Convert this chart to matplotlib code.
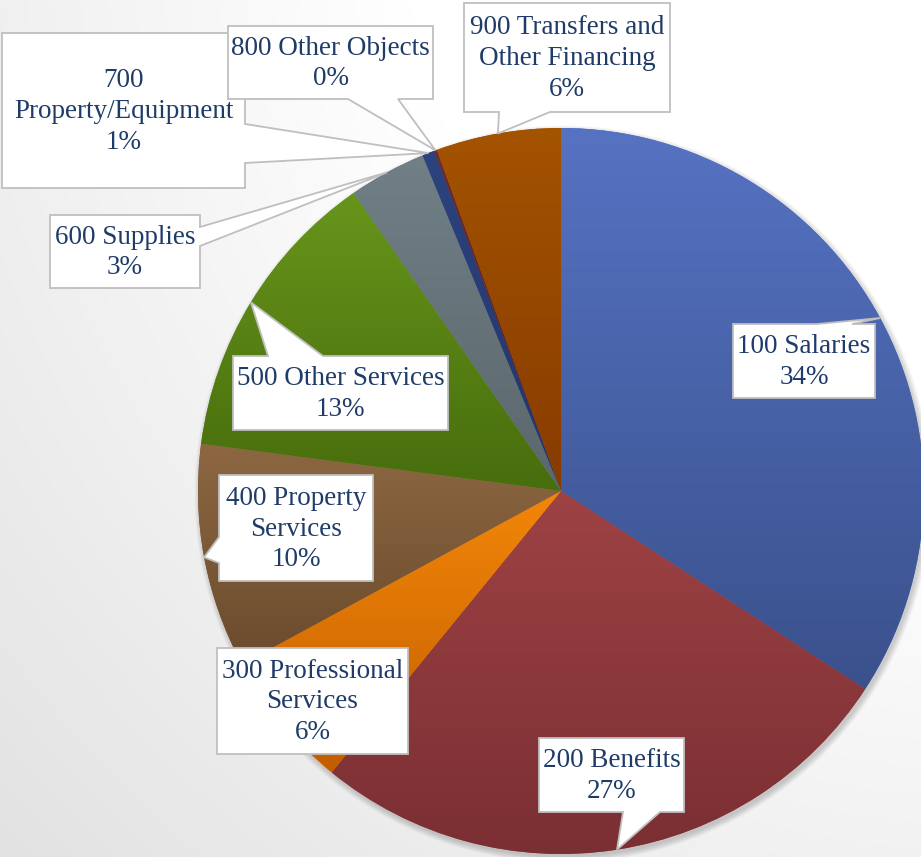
import matplotlib.pyplot as plt
import numpy as np
from matplotlib.patches import Polygon, Circle
from matplotlib.colors import to_rgb

# slice data (clockwise from 12 o'clock)
labels = ["100 Salaries", "200 Benefits", "300 Professional\nServices",
          "400 Property\nServices", "500 Other Services", "600 Supplies",
          "700\nProperty/Equipment", "800 Other Objects",
          "900 Transfers and\nOther Financing"]
shares = [34.2, 26.7, 6.2, 10.0, 13.25, 3.45, 0.55, 0.12, 5.56]
top_colors = ["#5672c2", "#9e4244", "#f38709", "#8d6742", "#67951b",
              "#717f86", "#2d437e", "#6e2c2c", "#a45300"]
bot_colors = ["#3a518c", "#7a2f33", "#c25e00", "#6a4b2d", "#476d0d",
              "#5a676d", "#22356a", "#592020", "#873b00"]

# callout boxes in pixels: (x0, y0, x1, y1), pointer side, pointer base
boxes = [
    ((733, 324, 875, 398), "top", (817, 852)),
    ((539, 738, 684, 812), "bottom", (623, 660)),
    ((217, 648, 408, 754), None, None),
    ((219, 475, 373, 581), "left", (537, 563)),
    ((233, 356, 448, 430), "top", (268, 323)),
    ((50, 215, 200, 288), "right", (227, 246)),
    ((2, 33, 245, 188), "right", (124, 163)),
    ((228, 26, 433, 99), "bottom", (348, 398)),
    ((464, 3, 670, 112), "bottom", (499, 550)),
]

W, H = 921, 857
cx, cy, R = 561, 491, 363

fig = plt.figure(figsize=(W / 100, H / 100), dpi=100)
ax = fig.add_axes([0, 0, 1, 1])

# background: soft radial grey
yy, xx = np.mgrid[0:H, 0:W]
d = np.hypot(xx - 1000, yy + 100)
v = np.clip(255 - 29 * (d - 600) / 784, 220, 255) / 255
ax.imshow(np.dstack([v, v, v]), extent=(0, W, H, 0), zorder=0)

# soft shadow
for i in range(8):
    ax.add_patch(Circle((cx + 2, cy + 3), R + i * 0.8, color="black",
                        alpha=0.025, lw=0, zorder=1))

wedges, _ = ax.pie(shares, colors=top_colors, startangle=-90, counterclock=True,
                   center=(cx, cy), radius=R, wedgeprops=dict(linewidth=0))

for w, c1, c2 in zip(wedges, top_colors, bot_colors):
    w.set_zorder(2)
    ext = w.get_path().get_extents()
    grad = np.linspace(0, 1, 256)[:, None, None]
    img = (1 - grad) * np.array(to_rgb(c1)) + grad * np.array(to_rgb(c2))
    im = ax.imshow(img, extent=(ext.x0, ext.x1, ext.y1, ext.y0), aspect="auto",
                   zorder=3, interpolation="bilinear")
    im.set_clip_path(w)

total = sum(shares)
for w, lab, s, (box, side, base) in zip(wedges, labels, shares, boxes):
    x0, y0, x1, y1 = box
    mid = np.deg2rad((w.theta1 + w.theta2) / 2)
    tip = (cx + R * np.cos(mid), cy + R * np.sin(mid))
    pts = [(x0, y0)]
    if side == "top":
        pts += [(base[0], y0), tip, (base[1], y0)]
    pts += [(x1, y0)]
    if side == "right":
        pts += [(x1, base[0]), tip, (x1, base[1])]
    pts += [(x1, y1)]
    if side == "bottom":
        pts += [(base[1], y1), tip, (base[0], y1)]
    pts += [(x0, y1)]
    if side == "left":
        pts += [(x0, base[1]), tip, (x0, base[0])]
    ax.add_patch(Polygon(pts, closed=True, fc="white", ec="#bfbfbf", lw=1.3,
                         zorder=5, joinstyle="miter"))
    ax.text((x0 + x1) / 2, (y0 + y1) / 2 + 1, f"{lab}\n{s / total * 100:.0f}%",
            ha="center", va="center", fontsize=19.5, family="Liberation Serif",
            color="#1f3b68", linespacing=1.3, zorder=6)

ax.set_xlim(0, W)
ax.set_ylim(H, 0)
ax.set_aspect("equal")
ax.axis("off")

plt.savefig("out.png", dpi=100)
